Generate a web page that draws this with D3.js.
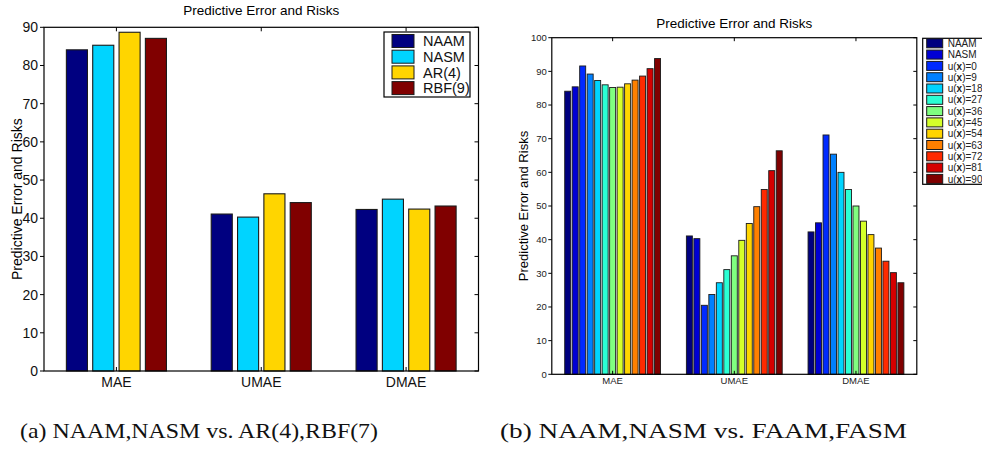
<!DOCTYPE html>
<html>
<head>
<meta charset="utf-8">
<script src="https://cdn.jsdelivr.net/npm/d3@7"></script>
<style>
  body { margin: 0; background: #fff; }
  svg { display: block; font-family: "Liberation Sans", Arial, sans-serif; }
  .caption { font-family: "Liberation Serif", "DejaVu Serif", serif; }
</style>
</head>
<body>
<svg id="fig" width="982" height="465"></svg>
<script>
// two MATLAB-style grouped bar charts, side by side

const categories = ["MAE", "UMAE", "DMAE"];

// (a) NAAM, NASM vs AR(4), RBF(9)
const seriesA = ["NAAM", "NASM", "AR(4)", "RBF(9)"];
const valuesA = [
  [84.1, 41.1, 42.3],
  [85.3, 40.3, 45.0],
  [88.7, 46.4, 42.4],
  [87.1, 44.1, 43.2]
];
const ticksA = [0, 10, 20, 30, 40, 50, 60, 70, 80, 90];

// (b) NAAM, NASM vs FAAM, FASM at several u(x) levels
const seriesB = ["NAAM", "NASM"];
const uLevels = [0, 9, 18, 27, 36, 45, 54, 63, 72, 81, 90];
const valuesB = [
  [84.1, 41.1, 42.3],
  [85.4, 40.3, 45.0],
  [91.6, 20.5, 71.1],
  [89.2, 23.7, 65.4],
  [87.3, 27.2, 60.0],
  [86.0, 31.1, 54.9],
  [85.2, 35.2, 50.0],
  [85.3, 39.8, 45.5],
  [86.3, 44.8, 41.5],
  [87.4, 49.8, 37.5],
  [88.6, 54.9, 33.6],
  [90.8, 60.5, 30.2],
  [93.8, 66.4, 27.2]
];
const ticksB = [0, 10, 20, 30, 40, 50, 60, 70, 80, 90, 100];

const captions = ["(a) NAAM,NASM vs.  AR(4),RBF(7)", "(b) NAAM,NASM vs.  FAAM,FASM"];

// MATLAB jet colormap, t in [0,1]
function jet(t) {
  const c = (v) => Math.round(255 * Math.max(0, Math.min(1, v)));
  const r = 1.5 - Math.abs(4 * t - 3), g = 1.5 - Math.abs(4 * t - 2), b = 1.5 - Math.abs(4 * t - 1);
  return d3.rgb(c(r), c(g), c(b)).toString();
}

const svg = d3.select("#fig");

function drawChart(opt) {
  const { left, right, top, bottom, series, values, ticks, ymax } = opt;
  const g = svg.append("g");
  const m = series.length;
  const colors = series.map((d, i) => jet(m === 1 ? 0 : i / (m - 1)));

  const x = d3.scaleBand().domain(categories).range([left, right]).padding(0);
  const unit = x.bandwidth();
  const gw = Math.min(0.8, m / (m + 1.5));
  const inner = d3.scaleBand().domain(d3.range(m))
    .range([(1 - gw) / 2 * unit, (1 + gw) / 2 * unit])
    .paddingInner(0.2).paddingOuter(0.1);
  const y = d3.scaleLinear().domain([0, ymax]).range([bottom, top]);

  // bars
  series.forEach((s, i) => {
    g.append("g").selectAll("rect").data(values[i]).enter().append("rect")
      .attr("x", (d, j) => x(categories[j]) + inner(i))
      .attr("width", inner.bandwidth())
      .attr("y", (d) => y(d))
      .attr("height", (d) => y(0) - y(d))
      .attr("fill", colors[i])
      .attr("stroke", "#1a1a1a").attr("stroke-width", opt.barStroke);
  });

  // box
  g.append("rect").attr("x", left).attr("y", top)
    .attr("width", right - left).attr("height", bottom - top)
    .attr("fill", "none").attr("stroke", "#000").attr("stroke-width", 1.2);

  const tl = opt.tickLen;
  // y ticks: outward on the left, inward on the right
  ticks.forEach((t) => {
    g.append("line").attr("x1", left - tl).attr("x2", left).attr("y1", y(t)).attr("y2", y(t))
      .attr("stroke", "#000");
    g.append("line").attr("x1", right - tl).attr("x2", right).attr("y1", y(t)).attr("y2", y(t))
      .attr("stroke", "#000");
    g.append("text").attr("x", left - opt.tickPad).attr("y", y(t))
      .attr("dy", "0.35em").attr("text-anchor", "end")
      .attr("font-size", opt.tickFont).attr("fill", opt.tickColor).text(t);
  });
  // x ticks: inward top and bottom
  categories.forEach((c) => {
    const cx = x(c) + unit / 2;
    g.append("line").attr("x1", cx).attr("x2", cx).attr("y1", bottom).attr("y2", bottom - tl).attr("stroke", "#000");
    g.append("line").attr("x1", cx).attr("x2", cx).attr("y1", top).attr("y2", top + tl).attr("stroke", "#000");
    g.append("text").attr("x", cx).attr("y", bottom + opt.xLabelDy)
      .attr("text-anchor", "middle").attr("font-size", opt.tickFont)
      .attr("fill", opt.tickColor).text(c);
  });

  // title and y label
  g.append("text").attr("x", (left + right) / 2).attr("y", opt.titleY)
    .attr("text-anchor", "middle").attr("font-size", opt.titleFont).text("Predictive Error and Risks");
  g.append("text")
    .attr("transform", `translate(${opt.ylabelX},${(top + bottom) / 2}) rotate(-90)`)
    .attr("text-anchor", "middle").attr("dy", "0.35em")
    .attr("font-size", opt.ylabelFont).text("Predictive Error and Risks");

  // legend
  const L = opt.legend;
  g.append("rect").attr("x", L.x).attr("y", L.y).attr("width", L.w).attr("height", L.h)
    .attr("fill", "#fff").attr("stroke", "#000").attr("stroke-width", 1.2);
  series.forEach((s, i) => {
    const cy = L.y + L.first + i * L.step;
    g.append("rect").attr("x", L.x + L.swX).attr("y", cy - L.swH / 2)
      .attr("width", L.swW).attr("height", L.swH)
      .attr("fill", colors[i]).attr("stroke", "#1a1a1a").attr("stroke-width", 1);
    const t = g.append("text").attr("x", L.x + L.textX).attr("y", cy).attr("dy", "0.36em")
      .attr("font-size", L.font).attr("fill", opt.legendColor);
    if (typeof s === "number") {
      t.append("tspan").text("u(");
      t.append("tspan").attr("font-weight", "bold").text("x");
      t.append("tspan").text(")=" + s);
    } else {
      t.text(s);
    }
  });
}

drawChart({
  left: 44, right: 478.5, top: 27.3, bottom: 371,
  series: seriesA, values: valuesA, ticks: ticksA, ymax: 90,
  barStroke: 1.1, tickLen: 4, tickPad: 6, tickFont: 14, tickColor: "#111",
  xLabelDy: 16, titleY: 15, titleFont: 13.5, ylabelX: 17, ylabelFont: 14,
  legendColor: "#111",
  legend: { x: 384, y: 32, w: 86, h: 65, first: 9, step: 15.7, swX: 8, swW: 22, swH: 13, textX: 39, font: 14.5 }
});

drawChart({
  left: 551.8, right: 916.8, top: 37.7, bottom: 374.3,
  series: seriesB.concat(uLevels), values: valuesB, ticks: ticksB, ymax: 100,
  barStroke: 0.9, tickLen: 3.5, tickPad: 5, tickFont: 9.5, tickColor: "#222",
  xLabelDy: 10, titleY: 28, titleFont: 13.5, ylabelX: 523, ylabelFont: 13,
  legendColor: "#222",
  legend: { x: 922.7, y: 38.3, w: 70, h: 146, first: 5, step: 11.3, swX: 4, swW: 16, swH: 9, textX: 25, font: 10 }
});

// sub-figure captions (Computer Modern is wider than Times, so stretch to the measured width)
const capX = [20, 500], capW = [358, 407];
svg.selectAll("text.caption").data(captions).enter().append("text")
  .attr("class", "caption")
  .attr("x", (d, i) => capX[i]).attr("y", 438)
  .attr("textLength", (d, i) => capW[i]).attr("lengthAdjust", "spacingAndGlyphs")
  .attr("font-size", 22).attr("fill", "#111").text((d) => d);
</script>
</body>
</html>
